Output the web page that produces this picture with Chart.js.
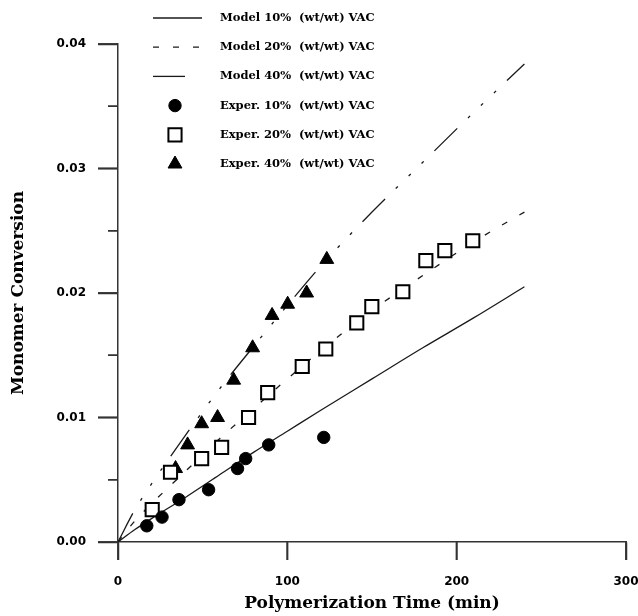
<!DOCTYPE html>
<html><head><meta charset="utf-8">
<script src="https://cdn.jsdelivr.net/npm/chart.js@4/dist/chart.umd.min.js"></script>
<style>html,body{margin:0;padding:0;background:#fff}canvas{display:block}</style>
</head><body><canvas id="c" width="638" height="616" style="width:638px;height:616px"></canvas>
<script>
// ---- data ----
const xTicks = [0, 100, 200, 300];
const yTicks = [0, 0.01, 0.02, 0.03, 0.04];
const modelTime = [0, 10, 20, 40, 60, 80, 100, 120, 150, 180, 210, 240];
const model10 = [0, 0.0010, 0.0019, 0.0036, 0.0054, 0.0072, 0.0089, 0.0106, 0.0131, 0.0156, 0.0180, 0.0205];
const model20 = [0, 0.0017, 0.0031, 0.0057, 0.0083, 0.0107, 0.0131, 0.0154, 0.0186, 0.0214, 0.0241, 0.0265];
const model40 = [0, 0.0026, 0.0047, 0.0086, 0.0123, 0.0157, 0.0190, 0.0222, 0.0265, 0.0305, 0.0345, 0.0384];
const exp10Time = [17, 26, 36, 53.5, 70.6, 75.4, 89, 121.5];
const exp10 = [0.0013, 0.0020, 0.0034, 0.0042, 0.0059, 0.0067, 0.0078, 0.0084];
const exp20Time = [20.2, 31, 49.4, 61.2, 77.1, 88.4, 108.8, 122.7, 141, 149.9, 168.2, 181.8, 193, 209.5];
const exp20 = [0.0026, 0.0056, 0.0067, 0.0076, 0.0100, 0.0120, 0.0141, 0.0155, 0.0176, 0.0189, 0.0201, 0.0226, 0.0234, 0.0242];
const exp40Time = [34, 41.1, 49.4, 58.8, 68.3, 79.5, 91, 100.2, 111.4, 123.3];
const exp40 = [0.0059, 0.0078, 0.0095, 0.0100, 0.0130, 0.0156, 0.0182, 0.0191, 0.0200, 0.0227];
const seriesLabels = ['Model 10%  (wt/wt) VAC', 'Model 20%  (wt/wt) VAC', 'Model 40%  (wt/wt) VAC',
  'Exper. 10%  (wt/wt) VAC', 'Exper. 20%  (wt/wt) VAC', 'Exper. 40%  (wt/wt) VAC'];
const xTitle = 'Polymerization Time (min)';
const yTitle = 'Monomer Conversion';

const pts = (xs, ys) => xs.map((x, i) => ({x: x, y: ys[i]}));
const INK = '#1a1a1a';
const AX = '#333';

const lineDs = (label, ys, dash, sampleLen) => ({
  label, data: pts(modelTime, ys), showLine: true, borderColor: INK, borderWidth: 1.3,
  borderDash: dash, pointRadius: 0, cubicInterpolationMode: 'monotone', fill: false, order: 2,
  sampleLen
});
const markDs = (label, xs, ys, style, r, bg, bw) => ({
  label, data: pts(xs, ys), showLine: false, pointStyle: style, pointRadius: r, pointHoverRadius: r,
  pointBackgroundColor: bg, pointBorderColor: '#000', pointBorderWidth: bw, order: 1
});

const datasets = [
  lineDs(seriesLabels[0], model10, [], 49),
  lineDs(seriesLabels[1], model20, [6, 14], 49),
  lineDs(seriesLabels[2], model40, [32, 15, 3, 15, 3, 15, 3, 15], 34),
  markDs(seriesLabels[3], exp10Time, exp10, 'circle', 6.2, '#000', 1),
  markDs(seriesLabels[4], exp20Time, exp20, 'rect', 9.3, '#fff', 2),
  markDs(seriesLabels[5], exp40Time, exp40, 'triangle', 8, '#000', 1)
];

const legendPlugin = {
  id: 'floatLegend',
  afterDraw(chart, args, o) {
    const ctx = chart.ctx;
    ctx.save();
    chart.data.datasets.forEach((ds, i) => {
      const y = o.y0 + i * o.dy;
      if (ds.showLine) {
        ctx.beginPath();
        ctx.setLineDash(ds.borderDash || []);
        ctx.strokeStyle = ds.borderColor; ctx.lineWidth = ds.borderWidth;
        ctx.moveTo(o.lx0, y); ctx.lineTo(o.lx0 + ds.sampleLen, y); ctx.stroke();
        ctx.setLineDash([]);
      } else {
        ctx.fillStyle = ds.pointBackgroundColor; ctx.strokeStyle = ds.pointBorderColor;
        ctx.lineWidth = ds.pointBorderWidth;
        Chart.helpers.drawPoint(ctx, {pointStyle: ds.pointStyle, rotation: 0, radius: ds.pointRadius, borderWidth: ds.pointBorderWidth}, o.sx, y);
      }
      ctx.fillStyle = '#000';
      ctx.font = o.font;
      ctx.textBaseline = 'middle';
      ctx.textAlign = 'left';
      ctx.fillText(ds.label, o.tx, y);
    });
    ctx.restore();
  }
};

// tick marks drawn from the library's scales, as filled bars
function drawTickMarks(chart, o) {
  const sy = chart.scales.y, sx = chart.scales.x, ctx = chart.ctx;
  ctx.save();
  ctx.globalAlpha = 1; ctx.globalCompositeOperation = 'source-over';
  ctx.fillStyle = AX;
  for (let k = 0; k < yTicks.length; k++) {
    const py = sy.getPixelForValue(yTicks[k]);
    ctx.fillRect(sy.right - o.bigLen, py - 0.75, o.bigLen, 1.5);
    if (k < yTicks.length - 1) {
      const pm = sy.getPixelForValue((yTicks[k] + yTicks[k + 1]) / 2);
      ctx.fillRect(sy.right - o.smallLen, pm - 0.75, o.smallLen, 1.5);
    }
  }
  xTicks.forEach(v => {
    const px = sx.getPixelForValue(v);
    ctx.fillRect(px - 0.75, sx.top, 1.5, o.xLen);
  });
  ctx.restore();
}
const tickMarks = {
  id: 'tickMarks',
  beforeDatasetsDraw(chart, args, o) { drawTickMarks(chart, o); },
  afterDraw(chart, args, o) { drawTickMarks(chart, o); }
};

new Chart(document.getElementById('c'), {
  type: 'scatter',
  data: {datasets},
  plugins: [legendPlugin, tickMarks],
  options: {
    responsive: false, animation: false, devicePixelRatio: 1,
    layout: {padding: {top: 44, right: 12, left: 0, bottom: 0}},
    plugins: {
      legend: {display: false}, tooltip: {enabled: false},
      floatLegend: {y0: 18, dy: 29.2, lx0: 153, sx: 175, tx: 220, font: 'bold 11.5px "DejaVu Serif"'},
      tickMarks: {bigLen: 20, smallLen: 10, xLen: 18}
    },
    scales: {
      x: {
        type: 'linear', min: xTicks[0], max: xTicks[xTicks.length - 1],
        afterFit: s => { s.height = 74; s.paddingLeft = 0; s.paddingRight = 0; },
        afterBuildTicks: s => { s.ticks = xTicks.map(v => ({value: v})); },
        ticks: {color: '#000', font: {family: 'DejaVu Sans', weight: 'bold', size: 12}, padding: 15, callback: v => String(v)},
        grid: {display: true, drawOnChartArea: false, drawTicks: true, tickLength: 18, tickColor: AX, tickWidth: 1.5},
        border: {display: true, color: AX, width: 1.5},
        title: {display: true, text: xTitle, color: '#000', font: {family: 'DejaVu Serif', weight: 'bold', size: 17}, padding: {top: 0, bottom: 2}}
      },
      y: {
        type: 'linear', min: yTicks[0], max: yTicks[yTicks.length - 1],
        afterFit: s => { s.width = 118; },
        afterBuildTicks: s => { s.ticks = yTicks.map(v => ({value: v})); },
        ticks: {color: '#000', font: {family: 'DejaVu Sans', weight: 'bold', size: 12}, padding: 12, callback: v => v.toFixed(2)},
        grid: {display: true, drawOnChartArea: false, drawTicks: true, tickLength: 20, tickColor: AX, tickWidth: 1.5},
        border: {display: true, color: AX, width: 1.5},
        title: {display: true, text: yTitle, color: '#000', font: {family: 'DejaVu Serif', weight: 'bold', size: 17}, padding: {top: 8, bottom: 0}}
      }
    }
  }
});
</script></body></html>
